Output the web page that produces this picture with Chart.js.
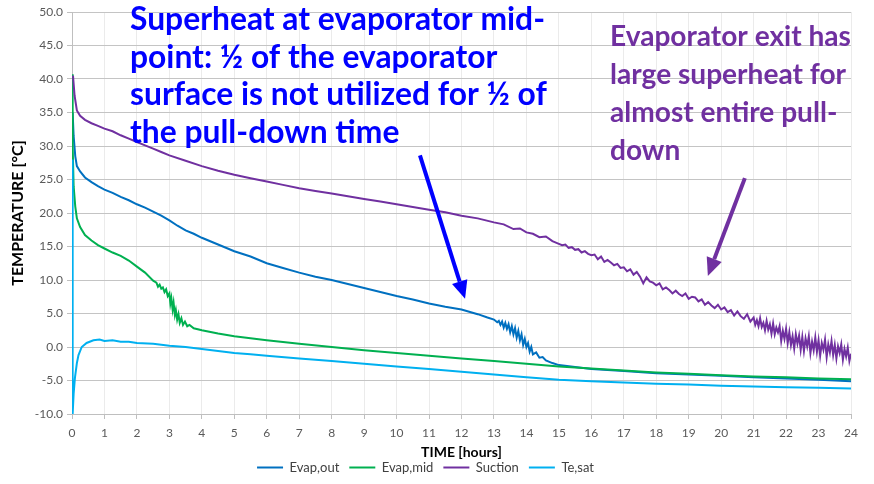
<!DOCTYPE html>
<html>
<head>
<meta charset="utf-8">
<script src="https://cdn.jsdelivr.net/npm/chart.js@4"></script>
<style>
html, body { margin: 0; padding: 0; background: #fff; }
</style>
</head>
<body>
<canvas id="myChart" width="874" height="484"></canvas>
<script>
// Series names (legend order)
var seriesNames = ['Evap,out', 'Evap,mid', 'Suction', 'Te,sat'];

// Evap,out
var outHours = [0.02, 0.05, 0.1, 0.15, 0.25, 0.4, 0.6, 0.8, 1.0, 1.25, 1.5, 1.75, 2.0, 2.25, 2.5, 2.75, 3.0, 3.25, 3.5, 3.75,
    4.0, 4.5, 5.0, 5.5, 6.0, 6.5, 7.0, 7.5, 8.0, 8.5, 9.0, 9.5, 10.0, 10.5, 11.0, 11.5, 12.0, 12.5, 12.8, 13.0,
    13.1, 13.15, 13.2, 13.25, 13.3, 13.35, 13.4, 13.45, 13.5, 13.55, 13.6, 13.65, 13.7, 13.75, 13.8, 13.85, 13.9, 13.95, 14.0, 14.05,
    14.1, 14.15, 14.2, 14.3, 14.4, 14.5, 14.6, 14.8, 15.0, 15.5, 16.0,
    17.0, 18.0, 19.0, 20.0, 21.0, 22.0, 23.0, 24.0];
var outTemp = [35.0, 31.5, 28.5, 27.0, 26.2, 25.3, 24.6, 24.0, 23.5, 23.0, 22.4, 21.9, 21.3, 20.8, 20.2, 19.6, 18.9, 18.1, 17.4, 16.9,
    16.3, 15.3, 14.3, 13.5, 12.5, 11.8, 11.1, 10.5, 10.0, 9.4, 8.8, 8.2, 7.6, 7.1, 6.5, 6.0, 5.6, 4.9, 4.4, 4.1,
    3.7, 3.9, 3.3, 3.8, 2.9, 3.6, 2.7, 3.4, 2.2, 3.1, 1.9, 2.8, 1.4, 2.4, 1.0, 1.9, 0.3, 1.2, 0.0, 0.6,
    -0.7, 0.0, -1.1, -0.8, -1.6, -1.5, -2.0, -2.4, -2.7, -3.0, -3.3,
    -3.6, -3.9, -4.1, -4.3, -4.5, -4.7, -4.9, -5.1];

// Evap,mid
var midHours = [0.0, 0.02, 0.05, 0.1, 0.15, 0.25, 0.4, 0.6, 0.8, 1.0, 1.25, 1.5, 1.75, 2.0, 2.25, 2.5, 2.6, 2.65, 2.7, 2.75,
    2.8, 2.85, 2.9, 2.95, 3.0, 3.03, 3.06, 3.1, 3.13, 3.17, 3.2, 3.24, 3.28, 3.32, 3.37, 3.42, 3.48, 3.55, 3.62, 3.75,
    4.0, 4.5, 5.0, 5.5, 6.0, 7.0, 8.0, 9.0, 10.0,
    11.0, 12.0, 13.0, 14.0, 15.0, 16.0, 17.0, 18.0, 19.0, 20.0, 21.0, 22.0, 23.0, 24.0];
var midTemp = [40.7, 30.0, 24.0, 21.0, 19.2, 17.9, 16.7, 15.9, 15.2, 14.7, 14.1, 13.6, 12.9, 12.0, 11.1, 9.9, 9.6, 9.0, 9.3, 8.7,
    8.9, 8.2, 8.6, 7.6, 8.0, 6.5, 7.3, 5.6, 6.6, 4.8, 5.5, 4.1, 4.9, 3.6, 4.3, 3.3, 3.8, 3.1, 3.3, 2.8,
    2.5, 2.0, 1.6, 1.3, 1.0, 0.5, 0.0, -0.5, -0.9,
    -1.3, -1.7, -2.1, -2.5, -2.9, -3.2, -3.5, -3.8, -4.0, -4.2, -4.4, -4.5, -4.7, -4.8];

// Suction
var suctionHours = [0.03, 0.08, 0.15, 0.25, 0.4, 0.6, 0.8, 1.0, 1.25, 1.5, 1.75, 2.0, 2.25, 2.5, 2.75, 3.0, 3.5, 4.0, 4.5, 5.0,
    5.5, 6.0, 6.5, 7.0, 7.5, 8.0, 8.5, 9.0, 9.5, 10.0, 10.5, 11.0, 11.5, 12.0, 12.5, 13.0, 13.3, 13.6, 13.8, 14.0,
    14.2, 14.4, 14.6, 14.8,
    15.0, 15.1, 15.2, 15.3, 15.4, 15.5, 15.6, 15.7, 15.8, 15.9, 16.0, 16.1, 16.2, 16.3, 16.4, 16.5, 16.6, 16.7, 16.8, 16.9,
    17.0, 17.1, 17.2, 17.3, 17.4, 17.5, 17.6, 17.7, 17.8, 17.9, 18.0, 18.1, 18.2, 18.3, 18.4, 18.5, 18.6, 18.7, 18.8, 18.9,
    19.0, 19.1, 19.2, 19.3, 19.4, 19.5, 19.6, 19.7, 19.8, 19.9, 20.0, 20.1, 20.2, 20.3, 20.4, 20.5, 20.6, 20.7, 20.8, 20.9,
    21.0, 21.05, 21.1, 21.15, 21.2, 21.25, 21.3, 21.35, 21.4, 21.45, 21.5, 21.55, 21.6, 21.65, 21.7, 21.75, 21.8, 21.85, 21.9, 21.95,
    22.0, 22.05, 22.1, 22.15, 22.2, 22.25, 22.3, 22.35, 22.4, 22.45, 22.5, 22.55, 22.6, 22.65, 22.7, 22.75, 22.8, 22.85, 22.9, 22.95,
    23.0, 23.05, 23.1, 23.15, 23.2, 23.25, 23.3, 23.35, 23.4, 23.45, 23.5, 23.55, 23.6, 23.65, 23.7, 23.75, 23.8, 23.85, 23.9, 23.95,
    24.0];
var suctionTemp = [40.5, 37.5, 35.3, 34.5, 33.9, 33.4, 33.0, 32.6, 32.2, 31.6, 31.1, 30.6, 30.1, 29.6, 29.1, 28.6, 27.8, 27.0, 26.3, 25.7,
    25.2, 24.7, 24.2, 23.7, 23.3, 22.9, 22.5, 22.1, 21.7, 21.3, 20.9, 20.5, 20.1, 19.6, 19.2, 18.6, 18.3, 17.6, 17.7, 17.1,
    16.9, 16.4, 16.5, 15.8,
    15.4, 15.2, 15.3, 14.8, 14.9, 14.5, 14.6, 14.1, 14.3, 13.9, 13.7, 13.8, 13.1, 13.5, 12.7, 13.0, 12.6, 12.2, 12.4, 11.8,
    11.9, 11.3, 11.6, 10.8, 11.2, 10.5, 9.5, 10.4, 9.8, 9.6, 9.2, 9.5, 8.6, 8.9, 8.5, 8.0, 8.4, 7.9, 7.6, 8.0,
    7.2, 7.5, 7.4, 6.8, 7.1, 6.3, 6.7, 6.2, 5.8, 6.3, 5.6, 5.9, 5.2, 5.5, 4.7, 5.3, 4.6, 4.2, 4.9, 3.8,
    4.4, 3.3, 4.0, 3.1, 4.3, 3.0, 3.6, 2.5, 3.9, 2.6, 3.4, 2.0, 3.5, 1.9, 2.9, 2.2, 3.1, 0.9, 2.4, 1.2,
    2.7, 0.6, 2.2, 0.3, 1.6, -0.2, 1.9, 0.5, 1.7, -0.4, 1.5, -0.6, 1.3, 0.1, 1.6, -0.9, 0.8, -0.5, 1.4, -0.7,
    1.0, -1.3, 0.6, -0.4, 1.1, -1.5, 0.4, -0.8, 0.9, -1.2, 0.3, -1.7, 0.1, -0.9, 0.4, -1.9, -0.3, -1.4, -0.1, -2.1,
    -1.0];

// Te,sat
var satHours = [0.0, 0.02, 0.05, 0.09, 0.15, 0.2, 0.3, 0.45, 0.66, 0.85, 1.0, 1.25, 1.5, 1.75, 2.0, 2.5, 3.0, 3.5, 4.0, 4.5,
    5.0, 5.5, 6.0, 7.0, 8.0, 9.0, 10.0, 11.0, 12.0, 13.0, 14.0, 15.0, 16.0, 17.0, 18.0, 19.0, 20.0, 21.0, 22.0, 23.0, 24.0];
var satTemp = [28.0, -10.0, -7.0, -4.6, -2.4, -1.2, 0.0, 0.6, 1.0, 1.1, 0.9, 1.0, 0.8, 0.8, 0.6, 0.5, 0.2, 0.0, -0.3, -0.6,
    -0.9, -1.1, -1.3, -1.7, -2.1, -2.5, -2.9, -3.3, -3.7, -4.1, -4.5, -4.9, -5.1, -5.3, -5.5, -5.6, -5.8, -5.9, -6.0, -6.1, -6.2];

var seriesColors = ['#0070C0', '#00B050', '#7030A0', '#00B0F0'];

var blueNote = ['Superheat at evaporator mid-', 'point: \u00bd of the evaporator', 'surface is not utilized for \u00bd of', 'the pull-down time'];
var purpleNote = ['Evaporator exit has', 'large superheat for', 'almost entire pull-', 'down'];

function toPoints(xs, ys) {
    return xs.map(function (x, i) { return { x: x, y: ys[i] }; });
}

var FONT = 'Lato, "Open Sans", sans-serif';

// text notes and arrows drawn on top of the plot
var notesPlugin = {
    id: 'notes',
    afterDatasetsDraw: function (chart) {
        var c = chart.ctx, xs = chart.scales.x, ys = chart.scales.y;

        function arrow(x0, y0, x1, y1, color) {
            var px0 = xs.getPixelForValue(x0), py0 = ys.getPixelForValue(y0);
            var px1 = xs.getPixelForValue(x1), py1 = ys.getPixelForValue(y1);
            var ang = Math.atan2(py1 - py0, px1 - px0);
            var headLen = 18, headW = 8;
            var bx = px1 - headLen * Math.cos(ang), by = py1 - headLen * Math.sin(ang);
            c.save();
            c.strokeStyle = color;
            c.fillStyle = color;
            c.lineWidth = 4;
            c.beginPath();
            c.moveTo(px0, py0);
            c.lineTo(bx, by);
            c.stroke();
            c.beginPath();
            c.moveTo(px1, py1);
            c.lineTo(bx + headW * Math.sin(ang), by - headW * Math.cos(ang));
            c.lineTo(bx - headW * Math.sin(ang), by + headW * Math.cos(ang));
            c.closePath();
            c.fill();
            c.restore();
        }

        function note(lines, left, top, gap, width, color) {
            c.save();
            c.font = 'bold 20px ' + FONT;
            var size = 20 * width / c.measureText(lines[0]).width;
            c.font = 'bold ' + size.toFixed(1) + 'px ' + FONT;
            c.fillStyle = color;
            c.textBaseline = 'alphabetic';
            lines.forEach(function (t, i) { c.fillText(t, left, top + i * gap); });
            c.restore();
        }

        arrow(10.72, 28.6, 12.11, 7.2, '#0000FF');
        arrow(20.73, 25.2, 19.59, 10.6, '#7030A0');
        note(blueNote, 130, 30, 37.7, 415, '#0000FF');
        note(purpleNote, 610, 46, 38, 241, '#7030A0');
    }
};

var ctx = document.getElementById('myChart').getContext('2d');

var myChart = new Chart(ctx, {
    type: 'line',
    data: {
        datasets: seriesNames.map(function (name, i) {
            var sets = [[outHours, outTemp], [midHours, midTemp], [suctionHours, suctionTemp], [satHours, satTemp]];
            return {
                label: name,
                data: toPoints(sets[i][0], sets[i][1]),
                borderColor: seriesColors[i],
                backgroundColor: seriesColors[i],
                borderWidth: 2,
                order: 3 - i
            };
        })
    },
    options: {
        responsive: false,
        animation: false,
        devicePixelRatio: 1,
        layout: { padding: { left: 0, right: 23, top: 12, bottom: 0 } },
        elements: {
            line: { tension: 0 },
            point: { radius: 0 }
        },
        scales: {
            x: {
                type: 'linear',
                min: 0,
                max: 24,
                ticks: { stepSize: 1, color: '#595959', font: { family: FONT, size: 12 }, padding: 7 },
                grid: { color: '#EBEBEB', tickColor: '#BFBFBF', tickLength: 5 },
                border: { color: '#BFBFBF' },
                title: { display: true, text: 'TIME [hours]', color: '#000', font: { family: FONT, size: 14, weight: 'bold' }, padding: { top: 0, bottom: -10 } },
                afterFit: function (s) { s.height = 37; }
            },
            y: {
                min: -10,
                max: 50,
                ticks: { stepSize: 5, color: '#595959', font: { family: FONT, size: 12 }, padding: 4,
                    callback: function (v) { return v.toFixed(1); } },
                grid: { color: '#C4C4C4', tickColor: '#BFBFBF', tickLength: 5 },
                border: { color: '#BFBFBF' },
                title: { display: true, text: 'TEMPERATURE [\u00b0C]', color: '#000', font: { family: FONT, size: 16, weight: 'bold' }, padding: { top: 8, bottom: 0 } },
                afterFit: function (s) { s.width = 72; }
            }
        },
        plugins: {
            legend: {
                position: 'bottom',
                labels: {
                    usePointStyle: true,
                    pointStyle: 'line',
                    pointStyleWidth: 26,
                    padding: 10,
                    color: '#404040',
                    font: { family: FONT, size: 13 },
                    sort: function (a, b) { return a.datasetIndex - b.datasetIndex; }
                }
            },
            tooltip: { enabled: false }
        }
    },
    plugins: [notesPlugin]
});
</script>
</body>
</html>
